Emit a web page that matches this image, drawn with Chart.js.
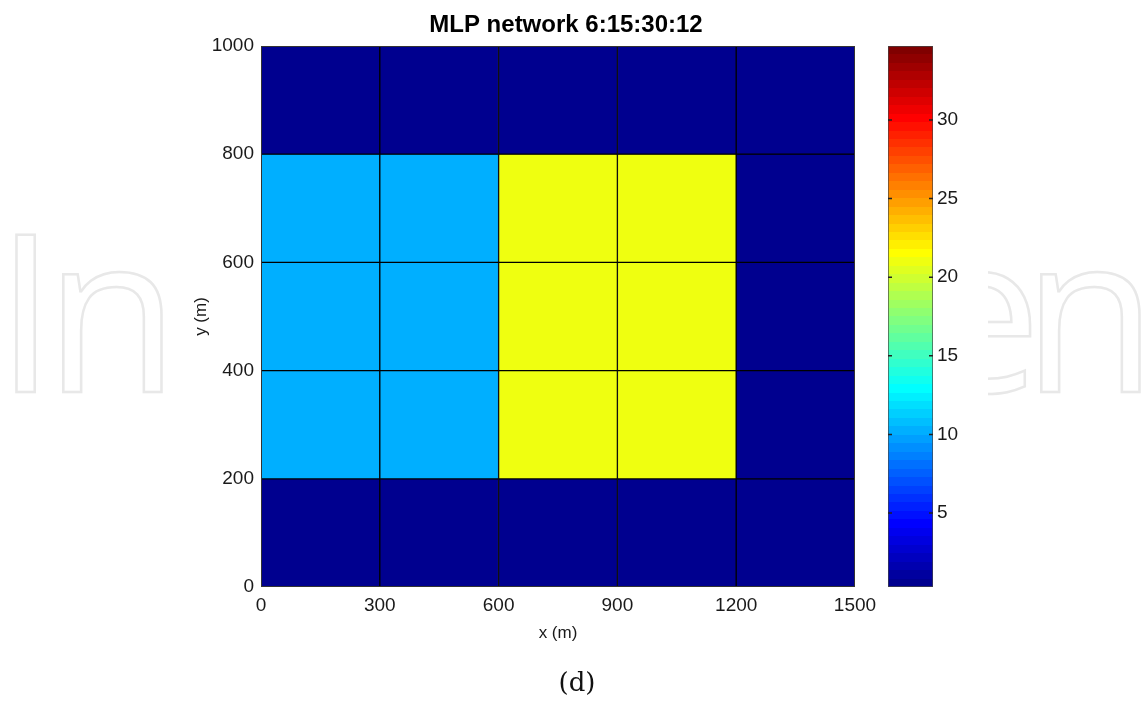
<!DOCTYPE html>
<html>
<head>
<meta charset="utf-8">
<script src="https://cdn.jsdelivr.net/npm/chart.js@4.4.1/dist/chart.umd.min.js"></script>
<style>
  body { margin: 0; background: #fff; }
  #wrap { position: relative; width: 1143px; height: 701px; overflow: hidden; }
  #wrap svg, #wrap canvas { position: absolute; top: 0; }
  #caption { position: absolute; left: 0; width: 1154px; top: 667px; line-height: 30px;
             text-align: center; font: 26px 'DejaVu Serif', serif; color: #111; }
</style>
</head>
<body>
<div id="wrap">
  <svg width="1143" height="701" style="left:0">
    <g fill="none" stroke="#e8e8e8" stroke-width="2.5" font-family="Open Sans" font-size="220">
      <text x="-5" y="392" letter-spacing="-12">In</text>
      <text x="918" y="392" letter-spacing="-19">en</text>
    </g>
    <rect x="170" y="0" width="818" height="701" fill="#fff"/>
  </svg>
  <canvas id="mapChart" width="1143" height="701" style="left:0"></canvas>
  <canvas id="barChart" width="140" height="701" style="left:860px"></canvas>
  <div id="caption">(d)</div>
</div>
<script>
const xEdges = [0, 300, 600, 900, 1200, 1500];
const yEdges = [0, 200, 400, 600, 800, 1000];
// one row per y band, from the bottom (0-200 m) to the top (800-1000 m)
const cellValues = [
  [0.5, 0.5, 0.5, 0.5, 0.5],
  [10.2, 10.2, 21.0, 21.0, 0.5],
  [10.2, 10.2, 21.0, 21.0, 0.5],
  [10.2, 10.2, 21.0, 21.0, 0.5],
  [0.5, 0.5, 0.5, 0.5, 0.5]
];
const colorMin = 0.3;
const colorMax = 34.7;
const colorTicks = [5, 10, 15, 20, 25, 30];
const chartTitle = 'MLP network 6:15:30:12';

const tickFont = { family: "'Liberation Sans Narrow', 'Liberation Sans', Arial", size: 19 };
const labelFont = { family: "'Liberation Sans Narrow', 'Liberation Sans', Arial", size: 17 };
const textColor = '#1a1a1a';

// MATLAB jet colormap, 64 entries, i = 1..64
function jet64(i) {
  const r = i <= 24 ? 0 : i <= 40 ? (i - 24) / 16 : i <= 55 ? 1 : (72 - i) / 16;
  const g = i <= 8 ? 0 : i <= 24 ? (i - 8) / 16 : i <= 39 ? 1 : i <= 55 ? (56 - i) / 16 : 0;
  const b = i <= 8 ? (i + 8) / 16 : i <= 23 ? 1 : i <= 39 ? (40 - i) / 16 : 0;
  return `rgb(${Math.round(r * 255)},${Math.round(g * 255)},${Math.round(b * 255)})`;
}

function colorFor(v) {
  const k = Math.floor((v - colorMin) / (colorMax - colorMin) * 64);
  return jet64(Math.min(63, Math.max(0, k)) + 1);
}

const cells = [];
const cellColors = [];
cellValues.forEach((row, j) => row.forEach((v, i) => {
  cells.push({ x: (xEdges[i] + xEdges[i + 1]) / 2, y: [yEdges[j], yEdges[j + 1]] });
  cellColors.push(colorFor(v));
}));

// box around the plot area + title (centred like the original, not over the canvas)
const axesBox = {
  id: 'axesBox',
  afterDatasetsDraw(chart) {
    const { ctx, chartArea: a } = chart;
    ctx.save();
    ctx.strokeStyle = '#333';
    ctx.lineWidth = 1;
    ctx.strokeRect(Math.round(a.left) + 0.5, Math.round(a.top) + 0.5,
      Math.round(a.right - a.left) - 1, Math.round(a.bottom - a.top) - 1);
    ctx.fillStyle = '#000';
    ctx.font = "bold 24px 'Liberation Sans', Arial";
    ctx.textAlign = 'center';
    ctx.textBaseline = 'middle';
    ctx.fillText(chartTitle, 566, 25);
    ctx.restore();
  }
};

// small inward tick marks on both sides of the colorbar
const barTicks = {
  id: 'barTicks',
  afterDatasetsDraw(chart) {
    const { ctx, chartArea: a, scales } = chart;
    ctx.save();
    ctx.strokeStyle = '#222';
    ctx.lineWidth = 1.5;
    colorTicks.forEach(v => {
      const y = scales.y.getPixelForValue(v);
      ctx.beginPath();
      ctx.moveTo(a.left, y); ctx.lineTo(a.left + 4, y);
      ctx.moveTo(a.right - 4, y); ctx.lineTo(a.right, y);
      ctx.stroke();
    });
    ctx.restore();
  }
};

function jetGradient(chart) {
  const { chartArea, scales } = chart;
  if (!chartArea) return null;
  const y0 = scales.y.getPixelForValue(colorMin);
  const y1 = scales.y.getPixelForValue(colorMax);
  const grad = chart.ctx.createLinearGradient(0, y0, 0, y1);
  for (let k = 0; k < 64; k++) {
    const c = jet64(k + 1);
    grad.addColorStop(k / 64, c);
    grad.addColorStop((k + 1) / 64, c);
  }
  return grad;
}

// Heat map of the cells
new Chart(document.getElementById('mapChart'), {
  type: 'bar',
  data: {
    datasets: [{
      data: cells,
      backgroundColor: cellColors,
      borderColor: '#000',
      borderWidth: 1,
      borderSkipped: false,
      barPercentage: 1,
      categoryPercentage: 1
    }]
  },
  options: {
    responsive: false,
    animation: false,
    layout: { padding: { left: 191, right: 288, top: 46, bottom: 54 } },
    plugins: {
      legend: { display: false },
      tooltip: { enabled: false },
      title: { display: false }
    },
    scales: {
      x: {
        type: 'linear', min: 0, max: 1500, offset: false,
        grid: { display: false, offset: false, drawTicks: false },
        border: { display: false },
        afterBuildTicks: s => { s.ticks = xEdges.map(v => ({ value: v })); },
        afterFit: s => { s.height = 60; },
        ticks: { color: textColor, font: tickFont, padding: 7, maxRotation: 0, autoSkip: false,
                 callback: v => String(v) },
        title: { display: true, text: 'x (m)', color: textColor, font: labelFont, padding: { top: 0, bottom: 3 } }
      },
      y: {
        type: 'linear', min: 0, max: 1000,
        grid: { display: false, drawTicks: false },
        border: { display: false },
        afterBuildTicks: s => { s.ticks = yEdges.map(v => ({ value: v })); },
        afterFit: s => { s.width = 70; },
        ticks: { color: textColor, font: tickFont, padding: 7, callback: v => String(v) },
        title: { display: true, text: 'y (m)', color: textColor, font: labelFont, padding: 0 }
      }
    }
  },
  plugins: [axesBox]
});

// Colorbar
new Chart(document.getElementById('barChart'), {
  type: 'bar',
  data: {
    labels: [''],
    datasets: [{
      data: [[colorMin, colorMax]],
      backgroundColor: ctx => jetGradient(ctx.chart),
      borderColor: '#444',
      borderWidth: 1,
      borderSkipped: false,
      barPercentage: 1,
      categoryPercentage: 1
    }]
  },
  options: {
    responsive: false,
    animation: false,
    layout: { padding: { left: 28, right: 27, top: 46, bottom: 114 } },
    plugins: { legend: { display: false }, tooltip: { enabled: false } },
    scales: {
      x: { display: false },
      y: {
        position: 'right', min: colorMin, max: colorMax,
        grid: { display: false, drawTicks: false },
        border: { display: false },
        afterBuildTicks: s => { s.ticks = colorTicks.map(v => ({ value: v })); },
        afterFit: s => { s.width = 40; },
        ticks: { color: textColor, font: tickFont, padding: 4 }
      }
    }
  },
  plugins: [barTicks]
});
</script>
</body>
</html>
